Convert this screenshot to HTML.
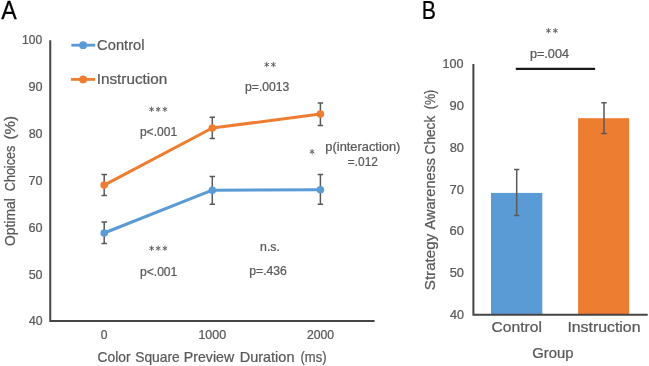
<!DOCTYPE html>
<html><head><meta charset="utf-8">
<style>
html,body{margin:0;padding:0;background:#fff;}
body{width:649px;height:366px;overflow:hidden;}
svg{display:block;will-change:transform;}
text{font-family:"Liberation Sans",sans-serif;stroke-width:0.25px;}
</style></head>
<body>
<svg width="649" height="366" viewBox="0 0 649 366">
<rect width="649" height="366" fill="#fff"/>
<!-- Chart A axes -->
<path d="M50.25 40.2V320.9H374.6" fill="none" stroke="#454545" stroke-width="2"/>
<!-- legend -->
<path d="M71.3 45.2H95.2" stroke="#5B9BD5" stroke-width="2.8"/>
<circle cx="83.1" cy="45.2" r="3.9" fill="#5B9BD5"/>
<path d="M70.9 79.4H95.2" stroke="#ED7D31" stroke-width="2.8"/>
<circle cx="83.1" cy="79.4" r="3.9" fill="#ED7D31"/>
<!-- error bars A -->
<g stroke="#595959" stroke-width="1.5" fill="none">
<path d="M104.2 174.6V195.6M101.5 174.6H107M101.5 195.6H107"/>
<path d="M104.2 221.9V243.5M101.5 221.9H107M101.5 243.5H107"/>
<path d="M212.3 117.2V138.4M209.6 117.2H215M209.6 138.4H215"/>
<path d="M212.3 176.5V204.3M209.6 176.5H215M209.6 204.3H215"/>
<path d="M320.4 103.1V125.6M317.7 103.1H323.1M317.7 125.6H323.1"/>
<path d="M320.4 174.5V204.2M317.7 174.5H323.1M317.7 204.2H323.1"/>
</g>
<polyline points="104.2,233 212.3,190.2 320.4,189.8" fill="none" stroke="#5B9BD5" stroke-width="3" stroke-linejoin="round"/>
<polyline points="104.2,185.1 212.3,128 320.4,114.1" fill="none" stroke="#ED7D31" stroke-width="3" stroke-linejoin="round"/>
<g fill="#5B9BD5">
<circle cx="104.2" cy="233" r="3.8"/>
<circle cx="212.3" cy="190.2" r="3.8"/>
<circle cx="320.4" cy="189.8" r="3.8"/>
</g>
<g fill="#ED7D31">
<circle cx="104.2" cy="185.1" r="3.8"/>
<circle cx="212.3" cy="128" r="3.8"/>
<circle cx="320.4" cy="114.1" r="3.8"/>
</g>
<!-- Chart B -->
<rect x="491" y="192.9" width="51.3" height="121.8" fill="#5B9BD5"/>
<rect x="578.1" y="118.2" width="51.1" height="196.5" fill="#ED7D31"/>
<g stroke="#595959" stroke-width="1.5" fill="none">
<path d="M516.7 169.4V215.6M514 169.4H519.4M514 215.6H519.4"/>
<path d="M604 102.8V133.5M601.3 102.8H606.7M601.3 133.5H606.7"/>
</g>
<path d="M473.4 63.9V314.7H647.7" fill="none" stroke="#454545" stroke-width="2"/>
<path d="M515.8 68.8H595.1" stroke="#1a1a1a" stroke-width="2.2"/>
<!-- asterisks --><path d="M151.60 106.70L151.60 111.90M149.35 108.00L153.85 110.60M153.85 108.00L149.35 110.60M158.20 106.70L158.20 111.90M155.95 108.00L160.45 110.60M160.45 108.00L155.95 110.60M164.90 106.70L164.90 111.90M162.65 108.00L167.15 110.60M167.15 108.00L162.65 110.60M151.60 245.70L151.60 250.90M149.35 247.00L153.85 249.60M153.85 247.00L149.35 249.60M158.20 245.70L158.20 250.90M155.95 247.00L160.45 249.60M160.45 247.00L155.95 249.60M164.90 245.70L164.90 250.90M162.65 247.00L167.15 249.60M167.15 247.00L162.65 249.60M266.70 62.00L266.70 67.20M264.45 63.30L268.95 65.90M268.95 63.30L264.45 65.90M273.40 62.00L273.40 67.20M271.15 63.30L275.65 65.90M275.65 63.30L271.15 65.90M312.10 149.10L312.10 154.30M309.85 150.40L314.35 153.00M314.35 150.40L309.85 153.00M548.40 28.10L548.40 33.30M546.15 29.40L550.65 32.00M550.65 29.40L546.15 32.00M555.30 28.10L555.30 33.30M553.05 29.40L557.55 32.00M557.55 29.40L553.05 32.00" stroke="#5f5f5f" stroke-width="0.95" fill="none"/>

<text transform="matrix(0.9273 0 0 1.0190 1.33 18.70)" font-size="25" fill="#000" stroke="#000">A</text>
<text transform="matrix(0.8523 0 0 1.0000 421.75 18.70)" font-size="25" fill="#000" stroke="#000">B</text>
<text transform="matrix(0.9789 0 0 0.9837 22.07 43.90)" font-size="12.3" fill="#595959" stroke="#595959">100</text>
<text transform="matrix(1.0297 0 0 0.9837 28.51 91.45)" font-size="12.3" fill="#595959" stroke="#595959">90</text>
<text transform="matrix(1.0196 0 0 0.9837 28.64 138.25)" font-size="12.3" fill="#595959" stroke="#595959">80</text>
<text transform="matrix(1.0297 0 0 0.9837 28.51 185.05)" font-size="12.3" fill="#595959" stroke="#595959">70</text>
<text transform="matrix(1.0297 0 0 0.9837 28.51 231.85)" font-size="12.3" fill="#595959" stroke="#595959">60</text>
<text transform="matrix(1.0196 0 0 0.9837 28.64 278.65)" font-size="12.3" fill="#595959" stroke="#595959">50</text>
<text transform="matrix(1.0000 0 0 0.9837 28.90 325.35)" font-size="12.3" fill="#595959" stroke="#595959">40</text>
<text transform="matrix(0.9872 0 0 0.9837 100.86 339.20)" font-size="12.3" fill="#595959" stroke="#595959">0</text>
<text transform="matrix(1.0126 0 0 0.9837 198.44 339.20)" font-size="12.3" fill="#595959" stroke="#595959">1000</text>
<text transform="matrix(0.9905 0 0 0.9837 307.03 339.20)" font-size="12.3" fill="#595959" stroke="#595959">2000</text>
<text transform="matrix(0.9338 0 0 0.9459 97.55 361.60)" font-size="14.8" fill="#595959" stroke="#595959">Color</text>
<text transform="matrix(0.9315 0 0 0.9459 135.25 361.60)" font-size="14.8" fill="#595959" stroke="#595959">Square</text>
<text transform="matrix(0.9577 0 0 0.9459 183.75 361.60)" font-size="14.8" fill="#595959" stroke="#595959">Preview</text>
<text transform="matrix(0.9786 0 0 0.9459 239.73 361.60)" font-size="14.8" fill="#595959" stroke="#595959">Duration</text>
<text transform="matrix(0.8793 0 0 0.9459 300.48 361.60)" font-size="14.8" fill="#595959" stroke="#595959">(ms)</text>
<text transform="matrix(0 -0.9401 0.9459 0 14.50 246.06)" font-size="14.8" fill="#595959" stroke="#595959">Optimal</text>
<text transform="matrix(0 -0.8499 0.9459 0 14.50 191.19)" font-size="14.8" fill="#595959" stroke="#595959">Choices</text>
<text transform="matrix(0 -1.0212 0.9459 0 14.50 139.44)" font-size="14.8" fill="#595959" stroke="#595959">(%)</text>
<text transform="matrix(0.9935 0 0 0.9459 97.10 49.80)" font-size="14.8" fill="#595959" stroke="#595959">Control</text>
<text transform="matrix(1.0323 0 0 0.9459 96.73 84.00)" font-size="14.8" fill="#595959" stroke="#595959">Instruction</text>
<text transform="matrix(0.9802 0 0 0.9675 139.91 135.80)" font-size="12.3" fill="#595959" stroke="#595959">p&lt;.001</text>
<text transform="matrix(0.9885 0 0 0.9675 245.11 91.10)" font-size="12.3" fill="#595959" stroke="#595959">p=.0013</text>
<text transform="matrix(1.0463 0 0 0.9675 325.37 151.00)" font-size="12.3" fill="#595959" stroke="#595959">p(interaction)</text>
<text transform="matrix(0.9674 0 0 0.9675 347.85 166.40)" font-size="12.3" fill="#595959" stroke="#595959">=.012</text>
<text transform="matrix(0.9829 0 0 0.9675 140.01 275.60)" font-size="12.3" fill="#595959" stroke="#595959">p&lt;.001</text>
<text transform="matrix(1.0014 0 0 0.9675 260.07 250.70)" font-size="12.3" fill="#595959" stroke="#595959">n.s.</text>
<text transform="matrix(0.9884 0 0 0.9675 249.31 275.30)" font-size="12.3" fill="#595959" stroke="#595959">p=.436</text>
<text transform="matrix(1.0211 0 0 0.9837 442.43 67.60)" font-size="12.3" fill="#595959" stroke="#595959">100</text>
<text transform="matrix(1.0535 0 0 0.9837 449.59 109.90)" font-size="12.3" fill="#595959" stroke="#595959">90</text>
<text transform="matrix(1.0431 0 0 0.9837 449.73 151.70)" font-size="12.3" fill="#595959" stroke="#595959">80</text>
<text transform="matrix(1.0535 0 0 0.9837 449.59 193.50)" font-size="12.3" fill="#595959" stroke="#595959">70</text>
<text transform="matrix(1.0535 0 0 0.9837 449.59 235.30)" font-size="12.3" fill="#595959" stroke="#595959">60</text>
<text transform="matrix(1.0431 0 0 0.9837 449.73 277.10)" font-size="12.3" fill="#595959" stroke="#595959">50</text>
<text transform="matrix(1.0231 0 0 0.9837 449.99 318.80)" font-size="12.3" fill="#595959" stroke="#595959">40</text>
<text transform="matrix(0 -1.0267 0.9459 0 434.60 290.22)" font-size="14.8" fill="#595959" stroke="#595959">Strategy</text>
<text transform="matrix(0 -0.9810 0.9459 0 434.60 229.45)" font-size="14.8" fill="#595959" stroke="#595959">Awareness</text>
<text transform="matrix(0 -0.9216 0.9459 0 434.60 154.44)" font-size="14.8" fill="#595959" stroke="#595959">Check</text>
<text transform="matrix(0 -0.8471 0.9459 0 434.60 109.19)" font-size="14.8" fill="#595959" stroke="#595959">(%)</text>
<text transform="matrix(1.0305 0 0 0.9675 529.88 57.70)" font-size="12.3" fill="#595959" stroke="#595959">p=.004</text>
<text transform="matrix(1.0587 0 0 0.9459 491.46 331.70)" font-size="14.8" fill="#595959" stroke="#595959">Control</text>
<text transform="matrix(1.0717 0 0 0.9459 567.38 331.70)" font-size="14.8" fill="#595959" stroke="#595959">Instruction</text>
<text transform="matrix(1.0038 0 0 0.9459 532.30 357.80)" font-size="14.8" fill="#595959" stroke="#595959">Group</text>
</svg>
</body></html>
